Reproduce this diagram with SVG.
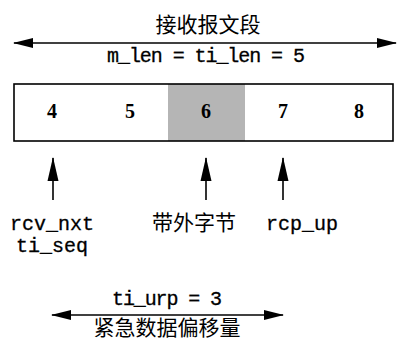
<svg xmlns="http://www.w3.org/2000/svg" width="398" height="340" viewBox="0 0 398 340">
<style>
.cn{font-family:"Noto Sans CJK SC","Noto Sans",sans-serif;font-size:21px;fill:#000;text-anchor:middle}
.mono{font-family:"Liberation Mono",monospace;font-size:20px;fill:#000;text-anchor:middle;stroke:#000;stroke-width:0.3}
.dig{font-family:"Liberation Serif",serif;font-weight:bold;font-size:20px;fill:#000;text-anchor:middle}
.ln{stroke:#000;stroke-width:1.6;fill:none}
</style>
<defs>
<marker id="ah" markerUnits="userSpaceOnUse" markerWidth="20" markerHeight="12" refX="19" refY="6" orient="auto-start-reverse">
<polygon points="0,1 20,6 0,11" fill="#000"/>
</marker>
<marker id="au" markerUnits="userSpaceOnUse" markerWidth="24" markerHeight="12" refX="23" refY="6" orient="auto">
<polygon points="0,0.5 24,6 0,11.5" fill="#000"/>
</marker>
</defs>
<g id="header">
<text class="cn" x="208" y="32">接收报文段</text>
<text class="mono" x="206" y="62" textLength="198" lengthAdjust="spacing">m_len = ti_len = 5</text>
</g>
<g id="segment">
<rect x="168" y="84" width="77" height="57" fill="#b5b5b5"/>
<rect x="14" y="84" width="379" height="57" class="ln"/>
<text class="dig" x="52" y="118">4</text>
<text class="dig" x="130" y="118">5</text>
<text class="dig" x="206" y="118">6</text>
<text class="dig" x="283" y="118">7</text>
<text class="dig" x="359" y="118">8</text>
</g>
<g id="label-rcv">
<text class="mono" x="52" y="230">rcv_nxt</text>
<text class="mono" x="52" y="252">ti_seq</text>
</g>
<g id="label-oob">
<text class="cn" x="194" y="230">带外字节</text>
</g>
<g id="label-rcp">
<text class="mono" x="302" y="230">rcp_up</text>
</g>
<g id="urgent">
<text class="mono" x="167" y="305" textLength="110" lengthAdjust="spacing">ti_urp = 3</text>
<text class="cn" x="167" y="335">紧急数据偏移量</text>
</g>
<g id="connectors">
<line class="ln" x1="14" y1="43" x2="396" y2="43" marker-start="url(#ah)" marker-end="url(#ah)"/>
<line class="ln" x1="53" y1="200" x2="53" y2="158" marker-end="url(#au)"/>
<line class="ln" x1="206" y1="200" x2="206" y2="158" marker-end="url(#au)"/>
<line class="ln" x1="283" y1="200" x2="283" y2="158" marker-end="url(#au)"/>
<line class="ln" x1="52" y1="315" x2="283" y2="315" marker-start="url(#ah)" marker-end="url(#ah)"/>
</g>
</svg>
